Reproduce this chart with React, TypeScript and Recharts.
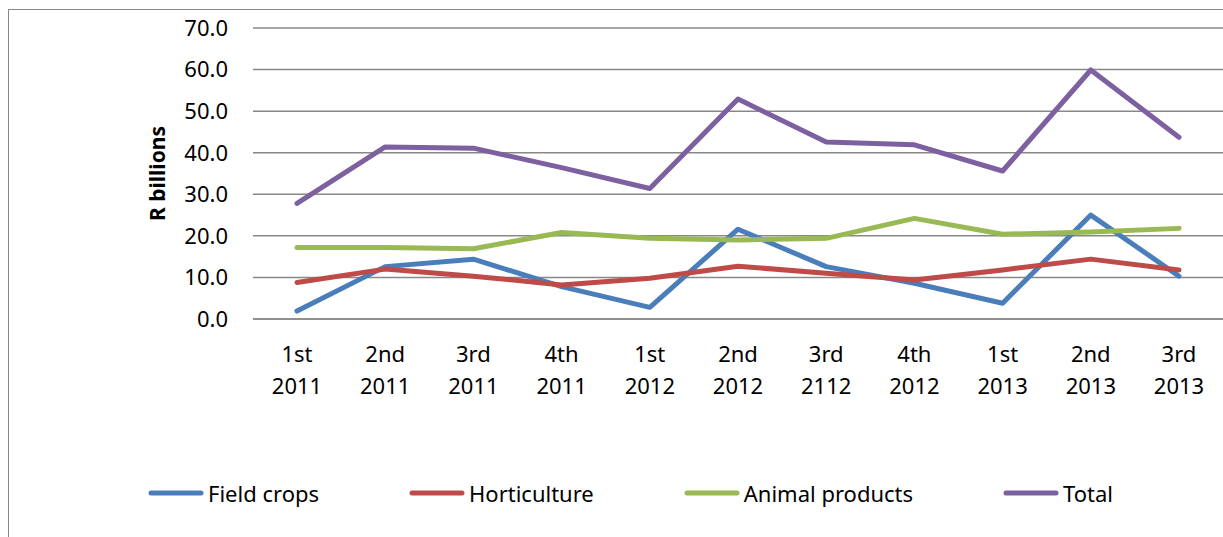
import React from "react";
import {
  LineChart,
  Line,
  XAxis,
  YAxis,
  CartesianGrid,
  Legend,
} from "recharts";

const categories = [
  "1st 2011",
  "2nd 2011",
  "3rd 2011",
  "4th 2011",
  "1st 2012",
  "2nd 2012",
  "3rd 2112",
  "4th 2012",
  "1st 2013",
  "2nd 2013",
  "3rd 2013",
];
const seriesNames = ["Field crops", "Horticulture", "Animal products", "Total"];
const fieldCrops = [1.9, 12.6, 14.4, 7.8, 2.8, 21.6, 12.6, 8.6, 3.8, 25.0, 10.3];
const horticulture = [8.8, 12.0, 10.3, 8.2, 9.8, 12.7, 11.0, 9.4, 11.8, 14.4, 11.8];
const animalProducts = [17.2, 17.2, 16.9, 20.8, 19.4, 19.0, 19.4, 24.2, 20.4, 20.9, 21.8];
const total = [27.8, 41.4, 41.1, 36.4, 31.4, 52.9, 42.6, 41.9, 35.6, 59.9, 43.7];
const yTicks = [0, 10, 20, 30, 40, 50, 60, 70];

const data = categories.map((c, i) => ({
  quarter: c,
  field: fieldCrops[i],
  hort: horticulture[i],
  animal: animalProducts[i],
  total: total[i],
}));

const FONT = "'Noto Sans', sans-serif";
const GRID = "#888888";

const QuarterTick = (props: any) => {
  const { x, y, payload } = props;
  const [q, yr] = String(payload.value).split(" ");
  return (
    <text x={x} y={y} textAnchor="middle" fontSize={22} fill="#000" fontFamily={FONT}>
      <tspan x={x} dy={43}>{q}</tspan>
      <tspan x={x} dy={32}>{yr}</tspan>
    </text>
  );
};

const LegendRow = (props: any) => {
  const items = [...(props.payload || [])].sort(
    (a: any, b: any) => seriesNames.indexOf(a.value) - seriesNames.indexOf(b.value)
  );
  return (
    <div style={{ display: "flex", alignItems: "center", paddingLeft: 148, height: 30 }}>
      {items.map((p: any) => (
        <div key={p.value} style={{ display: "flex", alignItems: "center", marginRight: 90 }}>
          <svg width={56} height={8}>
            <line x1={3} y1={4} x2={53} y2={4} stroke={p.color} strokeWidth={5} strokeLinecap="round" />
          </svg>
          <span style={{ marginLeft: 4, fontSize: 22, lineHeight: "30px", color: "#000", fontFamily: FONT }}>
            {p.value}
          </span>
        </div>
      ))}
    </div>
  );
};

const YLabel = (props: any) => {
  const vb = props.viewBox || { x: 0, y: 0, height: 0 };
  const cx = vb.x + 157;
  const cy = vb.y + vb.height / 2;
  return (
    <text
      x={cx}
      y={cy}
      transform={`rotate(-90, ${cx}, ${cy})`}
      textAnchor="middle"
      dominantBaseline="central"
      fontSize={21}
      fontWeight="bold"
      fontFamily={FONT}
      fill="#000"
    >
      R billions
    </text>
  );
};

export default function App() {
  return (
    <div
      style={{
        position: "fixed",
        left: 0,
        top: 0,
        width: 1223,
        height: 537,
        overflow: "hidden",
        background: "#fff",
        fontFamily: FONT,
      }}
    >
      <div
        style={{
          position: "absolute",
          left: 8,
          top: 9,
          width: 1300,
          height: 600,
          border: `1px solid ${GRID}`,
        }}
      />
      <div style={{ position: "absolute", left: 0, top: 0 }}>
        <LineChart width={1223} height={537} data={data} margin={{ top: 28, right: 0, left: 0, bottom: 0 }}>
          <CartesianGrid vertical={false} stroke={GRID} strokeWidth={1.5} />
          <XAxis
            dataKey="quarter"
            height={218}
            padding={{ left: 44, right: 44 }}
            tick={<QuarterTick />}
            tickLine={false}
            tickSize={0}
            tickMargin={0}
            axisLine={{ stroke: GRID, strokeWidth: 1.5 }}
            interval={0}
          />
          <YAxis
            width={253}
            domain={[0, 70]}
            ticks={yTicks}
            tickFormatter={(v: number) => v.toFixed(1)}
            tick={{ fontSize: 22, fill: "#000", fontFamily: FONT }}
            tickLine={false}
            tickSize={0}
            tickMargin={25}
            axisLine={false}
            label={{ content: <YLabel /> }}
          />
          <Legend
            layout="horizontal"
            verticalAlign="middle"
            align="center"
            wrapperStyle={{ top: 478, left: 0, width: 1223 }}
            content={<LegendRow />}
          />
          <Line dataKey="field" name={seriesNames[0]} stroke="#4A7EBB" strokeWidth={5} dot={false} strokeLinecap="round" strokeLinejoin="round" isAnimationActive={false} />
          <Line dataKey="hort" name={seriesNames[1]} stroke="#BE4B48" strokeWidth={5} dot={false} strokeLinecap="round" strokeLinejoin="round" isAnimationActive={false} />
          <Line dataKey="animal" name={seriesNames[2]} stroke="#98B954" strokeWidth={5} dot={false} strokeLinecap="round" strokeLinejoin="round" isAnimationActive={false} />
          <Line dataKey="total" name={seriesNames[3]} stroke="#7D60A0" strokeWidth={5} dot={false} strokeLinecap="round" strokeLinejoin="round" isAnimationActive={false} />
        </LineChart>
      </div>
    </div>
  );
}
